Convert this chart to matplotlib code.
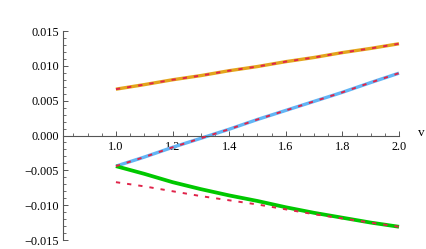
import numpy as np
import matplotlib
matplotlib.use("Agg")
import matplotlib.pyplot as plt
from matplotlib.ticker import MultipleLocator, FuncFormatter

# Data
v = [1.0, 1.1, 1.2, 1.3, 1.4, 1.5, 1.6, 1.7, 1.8, 1.9, 2.0]
orange = [0.00665, 0.0073, 0.0080, 0.0086, 0.0093, 0.0099, 0.0106, 0.0112, 0.0119, 0.0125, 0.01317]
blue = [-0.0044, -0.0031, -0.0017, -0.0004, 0.0009, 0.0023, 0.0036, 0.0049, 0.0062, 0.0076, 0.00895]
green = [-0.0044, -0.0055, -0.0067, -0.0077, -0.0086, -0.0094, -0.0103, -0.0111, -0.0118, -0.0125, -0.0131]
red_low = [-0.0067, -0.0073, -0.0080, -0.0087, -0.0093, -0.0099, -0.0106, -0.0113, -0.0119, -0.0125, -0.0131]
xticks = [1.0, 1.2, 1.4, 1.6, 1.8, 2.0]
yticks = [-0.015, -0.010, -0.005, 0.000, 0.005, 0.010, 0.015]

plt.rcParams['font.family'] = ['Liberation Serif', 'DejaVu Serif']

fig = plt.figure(figsize=(4.26, 2.49), dpi=100)
ax = fig.add_axes([63/426, 1-240/249, (399-63)/426, (240-31)/249])

c_orange = '#E3A51C'
c_blue = '#62B5F5'
c_green = '#00C800'
c_red = '#E0244A'

lw_thick = 2.4
ax.plot(v, orange, color=c_orange, lw=lw_thick, solid_capstyle='butt', clip_on=False, zorder=2)
ax.plot(v, blue, color=c_blue, lw=lw_thick, solid_capstyle='butt', clip_on=False, zorder=2)
ax.plot(v, green, color=c_green, lw=2.7, solid_capstyle='butt', clip_on=False, zorder=2)
dash = dict(color=c_red, lw=1.4, dashes=(2.2, 3.6), clip_on=False, zorder=3)
ax.plot(v, orange, **dash)
ax.plot(v, blue, **dash)
ax.plot(v, red_low, **dash)

x0 = 0.813
ax.set_xlim(x0, 2.0)
ax.set_ylim(-0.015, 0.015)

for s in ['top', 'right']:
    ax.spines[s].set_visible(False)
ax.spines['left'].set_position(('data', x0))
ax.spines['bottom'].set_position(('data', 0.0))
axcol = '#555555'
ax.spines['left'].set_color(axcol)
ax.spines['bottom'].set_color(axcol)
ax.spines['left'].set_linewidth(0.8)
ax.spines['bottom'].set_linewidth(0.8)

ax.set_xticks(xticks)
ax.xaxis.set_minor_locator(MultipleLocator(0.05))
ax.set_yticks(yticks)
ax.yaxis.set_minor_locator(MultipleLocator(0.001))
ax.xaxis.set_major_formatter(FuncFormatter(lambda x, p: f"{x:.1f}"))
ax.yaxis.set_major_formatter(FuncFormatter(lambda y, p: f"{y:.3f}".replace('-', '\u2212') if abs(y) > 1e-12 else "0.000"))

ax.tick_params(axis='both', which='major', direction='in', length=3.5, width=0.7, color=axcol, labelsize=8.8)
ax.tick_params(axis='both', which='minor', direction='in', length=2, width=0.6, color=axcol)
ax.tick_params(axis='x', which='major', pad=4)
ax.tick_params(axis='y', which='major', pad=3)

ax.annotate('v', xy=(2.0, 0.0), xytext=(16, 2), textcoords='offset points',
            fontsize=9.5, ha='center', va='center', annotation_clip=False)

fig.savefig('out.png', dpi=100)
